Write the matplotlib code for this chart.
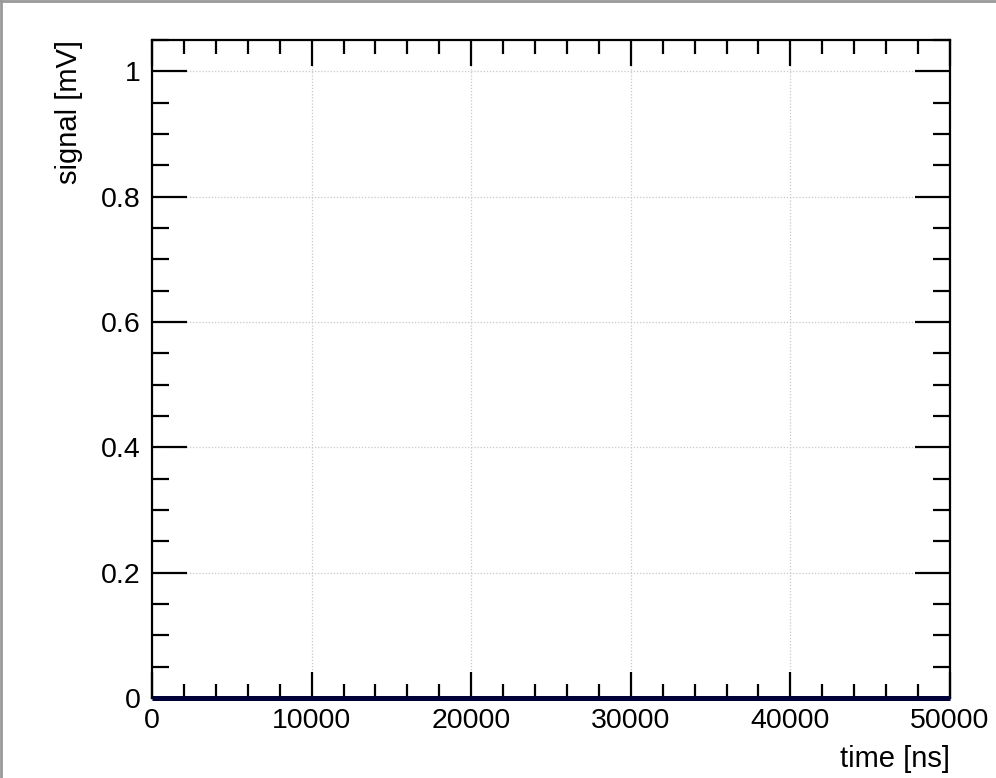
import numpy as np
import matplotlib.pyplot as plt
from matplotlib.ticker import MultipleLocator

# waveform samples (flat at zero over the whole window)
time_ns = [0, 10000, 20000, 30000, 40000, 50000]
signal_mv = [0, 0, 0, 0, 0, 0]

y_ticks = [0, 0.2, 0.4, 0.6, 0.8, 1.0]
y_tick_labels = ["0", "0.2", "0.4", "0.6", "0.8", "1"]

plt.rcParams["font.family"] = ["Liberation Sans", "DejaVu Sans"]

fig = plt.figure(figsize=(9.96, 7.78), dpi=100)
ax = fig.add_axes([152 / 996, 80 / 778, 798 / 996, 658 / 778])

ax.plot(time_ns, signal_mv, color="#000038", lw=3.6, solid_capstyle="butt", zorder=3, clip_on=False)

ax.set_xlim(0, 50000)
ax.set_ylim(0, 1.05)
ax.xaxis.set_major_locator(MultipleLocator(10000))
ax.xaxis.set_minor_locator(MultipleLocator(2000))
ax.yaxis.set_minor_locator(MultipleLocator(0.05))
ax.set_yticks(y_ticks)
ax.set_yticklabels(y_tick_labels)

ax.tick_params(which="both", direction="in", top=True, right=True, width=1.6, labelsize=20.5, color="black")
ax.tick_params(axis="y", which="major", length=25, pad=8)
ax.tick_params(axis="y", which="minor", length=12)
ax.tick_params(axis="x", which="major", length=19, pad=7)
ax.tick_params(axis="x", which="minor", length=10)

ax.grid(True, which="major", color="#c8c8c8", ls=(0, (1, 1.5)), lw=0.9)
for s in ax.spines.values():
    s.set_linewidth(1.6)

ax.set_xlabel("time [ns]", fontsize=21, loc="right", labelpad=8)
ax.set_ylabel("signal [mV]", fontsize=21, loc="top", labelpad=13)

# outer canvas frame
fig.add_artist(plt.Line2D([0.0015, 0.0015], [0, 1], color="#999999", lw=2, transform=fig.transFigure))
fig.add_artist(plt.Line2D([0, 1], [0.999, 0.999], color="#999999", lw=2, transform=fig.transFigure))

fig.savefig("out.png", dpi=100)
